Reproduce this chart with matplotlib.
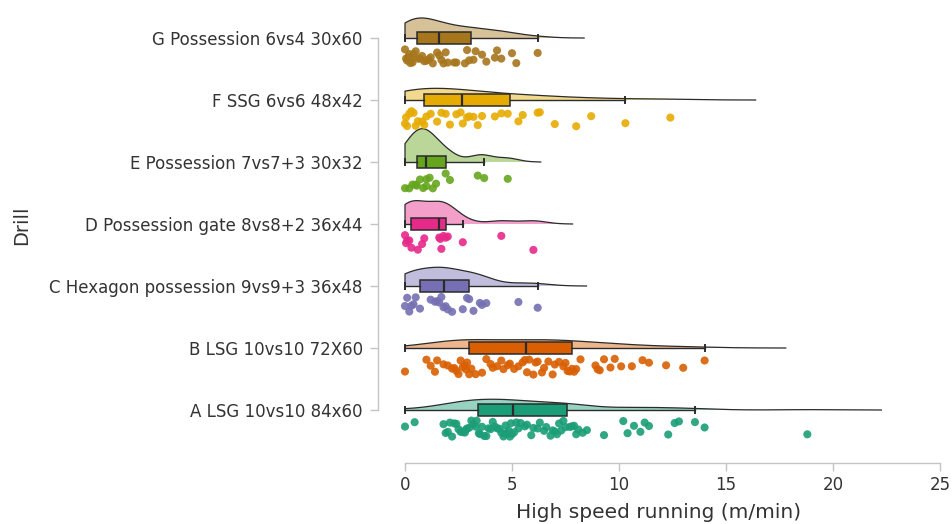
import numpy as np
import matplotlib
matplotlib.use("Agg")
import matplotlib.pyplot as plt

drills = ["A LSG 10vs10 84x60", "B LSG 10vs10 72X60",
          "C Hexagon possession 9vs9+3 36x48", "D Possession gate 8vs8+2 36x44",
          "E Possession 7vs7+3 30x32", "F SSG 6vs6 48x42", "G Possession 6vs4 30x60"]
colors = ["#1B9E77", "#D95F02", "#7570B3", "#E7298A", "#66A61E", "#E6AB02", "#A6761D"]

A = [0.0, 0.45, 1.8, 1.9, 2.0, 2.1, 2.2, 2.3, 2.4, 2.5, 2.6, 2.7, 2.8, 2.85, 2.9, 3.0, 3.1, 3.2, 3.3, 3.35,
     3.45, 3.5, 3.6, 3.7, 3.8, 3.9, 4.0, 4.1, 4.2, 4.3, 4.4, 4.5, 4.6, 4.65, 4.7, 4.8, 4.85, 4.9, 4.95, 5.0,
     5.1, 5.2, 5.3, 5.4, 5.6, 5.7, 5.9, 6.0, 6.2, 6.3, 6.5, 6.6, 6.8, 6.9, 7.0, 7.1, 7.2, 7.3, 7.4, 7.5,
     7.7, 7.8, 7.9, 8.0, 8.1, 8.3, 8.5, 9.3, 10.2, 10.4, 10.7, 11.0, 11.2, 11.4, 12.3, 12.6, 12.8, 13.55, 14.0, 18.8]
B = [0.0, 1.0, 1.2, 1.4, 1.5, 1.8, 2.0, 2.2, 2.3, 2.4, 2.5, 2.6, 2.7, 2.8, 2.85, 2.9,
     3.0, 3.1, 3.3, 3.6, 3.8, 4.0, 4.1, 4.3, 4.5, 4.6, 4.8, 4.9, 5.1, 5.3, 5.5, 5.6,
     5.7, 5.8, 6.0, 6.1, 6.2, 6.4, 6.5, 6.7, 6.9, 7.0, 7.2, 7.4, 7.5, 7.6, 7.7, 7.8,
     7.9, 8.0, 8.2, 8.9, 9.0, 9.1, 9.3, 9.6, 9.8, 10.1, 10.6, 11.1, 11.4, 12.2, 13.0, 14.0]
C = [0.0, 0.1, 0.2, 0.3, 0.4, 0.5, 0.7, 1.2, 1.4, 1.5, 1.6, 1.7, 1.8, 1.9, 2.0, 2.2, 2.7, 2.9,
     3.0, 3.2, 3.5, 3.6, 3.8, 5.3, 6.2]
D = [0.0, 0.05, 0.1, 0.2, 0.3, 0.6, 0.8, 0.9, 1.6, 1.65, 1.7, 1.8, 1.9, 2.0, 2.7, 4.5, 6.0]
E = [0.0, 0.2, 0.35, 0.5, 0.55, 0.7, 0.85, 1.0, 1.0, 1.15, 1.3, 1.45, 1.9, 2.1, 3.4, 3.7, 4.8]
F = [0.0, 0.05, 0.1, 0.2, 0.3, 0.4, 0.5, 0.6, 0.8, 0.9, 1.0, 1.2, 1.5, 1.7, 1.9, 2.1, 2.4, 2.6,
     2.7, 2.9, 3.0, 3.2, 3.4, 3.6, 4.2, 4.5, 4.8, 5.3, 5.5, 6.2, 6.3, 7.0, 8.0, 8.7, 10.3, 12.4]
G = [0.0, 0.05, 0.1, 0.15, 0.2, 0.25, 0.3, 0.35, 0.4, 0.5, 0.6, 0.7, 0.8, 0.9, 1.0, 1.1, 1.2, 1.3,
     1.5, 1.6, 1.7, 1.8, 1.9, 2.0, 2.3, 2.4, 2.8, 2.9, 3.0, 3.2, 3.3, 3.6, 3.8, 4.2, 4.3, 4.5, 5.0, 5.2, 6.2]
series = [A, B, C, D, E, F, G]

x_ticks = [0, 5, 10, 15, 20, 25]

TXT = "#333333"
AXC = "#c4c4c4"

fig = plt.figure(figsize=(9.52, 5.24), dpi=100)
L, R = 378 / 952, 940 / 952
Bt, Tp = (524 - 463) / 524, (524 - 5) / 524
ax = fig.add_axes([L, Bt, R - L, Tp - Bt])

px_per_unit = (940 - 405) / 25.0
x0 = -(405 - 378) / px_per_unit
ax.set_xlim(x0, 25.0)
ylo = -(463 - 410) / 62.0
yhi = 6 + (38 - 5) / 62.0
ax.set_ylim(ylo, yhi)


def bw_nrd0(x):
    x = np.asarray(x)
    sd = np.std(x, ddof=1)
    q75, q25 = np.percentile(x, [75, 25])
    lo = min(sd, (q75 - q25) / 1.34)
    if lo <= 0:
        lo = sd
    return 0.9 * lo * len(x) ** (-0.2)


def kde(x, grid, bw):
    x = np.asarray(x)
    z = (grid[:, None] - x[None, :]) / bw
    return np.exp(-0.5 * z ** 2).sum(1) / (len(x) * bw * np.sqrt(2 * np.pi))


K = 1.3
rng = np.random.default_rng(7)
for i, (vals, col) in enumerate(zip(series, colors)):
    v = np.asarray(vals, dtype=float)
    bw = bw_nrd0(v)
    grid = np.linspace(v.min(), v.max() + 3 * bw, 400)
    d = kde(v, grid, bw) * K
    ax.fill_between(grid, i, i + d, facecolor=col, alpha=0.45, edgecolor="none", zorder=1)
    ax.plot(np.r_[grid[0], grid, grid[-1]], np.r_[i, i + d, i], color="#2b2b2b", lw=0.9, zorder=2)

    bp = ax.boxplot([v], positions=[i], vert=False, widths=0.19, whis=1.5, showfliers=False,
                    patch_artist=True, capwidths=0.1, manage_ticks=False, zorder=3)
    for b in bp["boxes"]:
        b.set_facecolor(col)
        b.set_edgecolor("#2b2b2b")
        b.set_linewidth(1.1)
    for w in bp["whiskers"]:
        w.set_color("#2b2b2b")
        w.set_linewidth(1.0)
    for c in bp["caps"]:
        c.set_color("#2b2b2b")
        c.set_linewidth(1.4)
    for m in bp["medians"]:
        m.set_color("#2b2b2b")
        m.set_linewidth(1.6)

    jit = rng.uniform(-0.13, 0.13, len(v))
    ax.scatter(v, i - 0.3 + jit, s=34, color=col, alpha=0.9, edgecolors="none", zorder=4, clip_on=False)

for s in ["top", "right"]:
    ax.spines[s].set_visible(False)
ax.spines["left"].set_bounds(0, 6)
ax.spines["bottom"].set_bounds(0, 25)
for s in ["left", "bottom"]:
    ax.spines[s].set_color(AXC)
    ax.spines[s].set_linewidth(1.0)

ax.set_yticks(range(len(drills)))
ax.set_yticklabels(drills)
ax.set_xticks(x_ticks)
ax.set_xticklabels([str(t) for t in x_ticks])
ax.tick_params(axis="both", colors=AXC, labelcolor=TXT, length=6, width=1.0, labelsize=12)
ax.tick_params(axis="y", pad=5)
ax.tick_params(axis="x", pad=3)

ax.set_xlabel("High speed running (m/min)", fontsize=14.5, color=TXT, labelpad=7)
ax.set_ylabel("Drill", fontsize=14, color=TXT)
ax.yaxis.set_label_coords((31 - 378) / (940 - 378), (463 - 225) / (463 - 5))

fig.savefig("out.png", dpi=100)
